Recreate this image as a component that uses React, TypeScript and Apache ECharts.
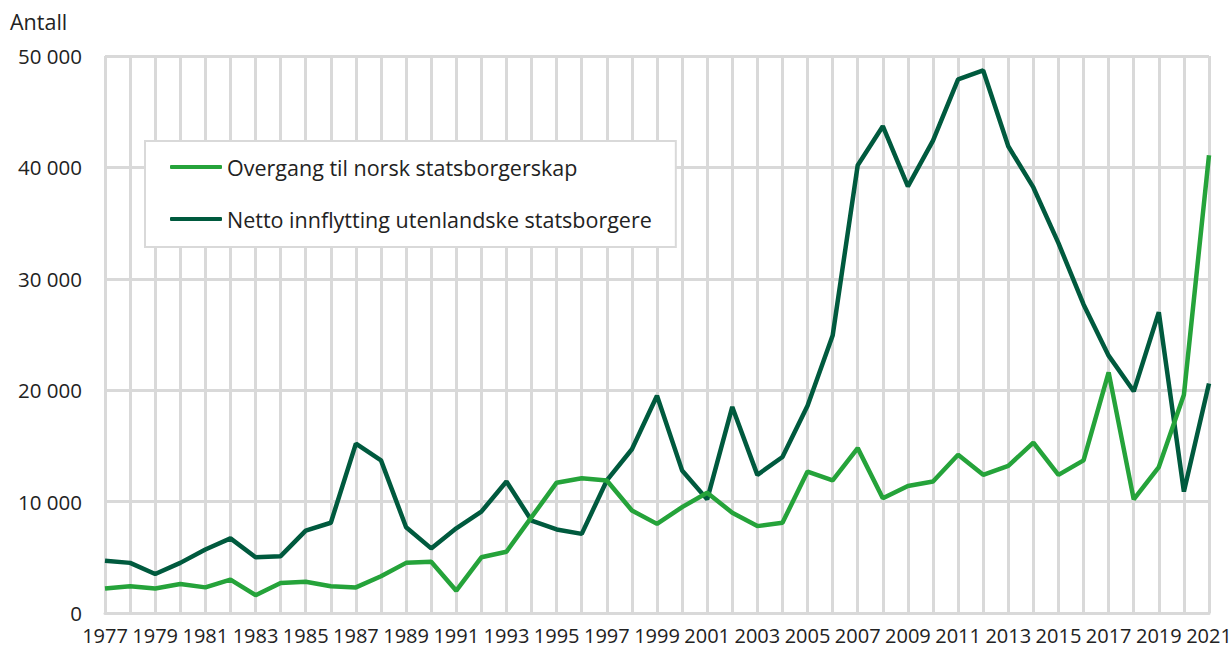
import React, { useEffect, useRef } from "react";
import * as echarts from "echarts";

const years = [
  "1977","1978","1979","1980","1981","1982","1983","1984","1985","1986",
  "1987","1988","1989","1990","1991","1992","1993","1994","1995","1996",
  "1997","1998","1999","2000","2001","2002","2003","2004","2005","2006",
  "2007","2008","2009","2010","2011","2012","2013","2014","2015","2016",
  "2017","2018","2019","2020","2021",
];

const overgang = [
  2200, 2400, 2200, 2600, 2300, 3000, 1600, 2700, 2800, 2400,
  2300, 3300, 4500, 4600, 2000, 5000, 5500, 8600, 11700, 12100,
  11900, 9200, 8000, 9500, 10800, 9000, 7800, 8100, 12700, 11900,
  14800, 10300, 11400, 11800, 14200, 12400, 13200, 15300, 12400, 13700,
  21600, 10200, 13100, 19600, 41100,
];

const netto = [
  4700, 4500, 3500, 4500, 5700, 6700, 5000, 5100, 7400, 8100,
  15200, 13700, 7700, 5800, 7600, 9100, 11800, 8300, 7500, 7100,
  11900, 14700, 19500, 12800, 10200, 18500, 12400, 14000, 18600, 24900,
  40200, 43700, 38300, 42400, 47900, 48700, 41900, 38200, 33200, 27700,
  23100, 19900, 27000, 10900, 20600,
];

const seriesNames = ["Overgang til norsk statsborgerskap", "Netto innflytting utenlandske statsborgere"];
const seriesColors = ["#25a33a", "#005a3e"];
const yAxisTitle = "Antall";

const FONT = "'Open Sans', 'Noto Sans', sans-serif";

export default function App() {
  const ref = useRef<HTMLDivElement>(null);
  useEffect(() => {
    if (!ref.current) return;
    const chart = echarts.init(ref.current, null, { renderer: "svg" });
    chart.setOption({
      animation: false,
      textStyle: { fontFamily: FONT, color: "#222" },
      grid: { left: 105, right: 22, top: 56, bottom: 36, containLabel: false, outerBoundsMode: "none" },
      graphic: [
        {
          type: "text",
          left: 10,
          top: 10,
          style: { text: yAxisTitle, fontSize: 21.5, fontFamily: FONT, fill: "#222" },
        },
      ],
      legend: {
        orient: "vertical",
        left: 145,
        top: 141,
        backgroundColor: "#fff",
        borderColor: "#d9d9d9",
        borderWidth: 2,
        padding: [13, 24, 15, 25],
        itemGap: 26,
        itemWidth: 52,
        itemHeight: 4,
        icon: "roundRect",
        textStyle: { fontSize: 21.5, lineHeight: 26, color: "#222", fontFamily: FONT },
        data: seriesNames,
      },
      xAxis: {
        type: "category",
        data: years,
        boundaryGap: false,
        axisLine: { show: true, lineStyle: { color: "#d9d9d9", width: 3 } },
        axisTick: { show: false },
        splitLine: { show: true, interval: 0, lineStyle: { color: "#d9d9d9", width: 3 } },
        axisLabel: { interval: 1, fontSize: 20, color: "#222", margin: 12, fontFamily: FONT },
      },
      yAxis: {
        type: "value",
        min: 0,
        max: 50000,
        interval: 10000,
        axisLine: { show: false },
        axisTick: { show: false },
        splitLine: { show: true, lineStyle: { color: "#d9d9d9", width: 3 } },
        axisLabel: {
          fontSize: 20.5,
          color: "#222",
          margin: 23,
          fontFamily: FONT,
          formatter: (v: number) => {
            const s = String(v);
            return s.length > 3 ? s.slice(0, s.length - 3) + " " + s.slice(-3) : s;
          },
        },
      },
      series: [
        {
          name: seriesNames[0],
          type: "line",
          data: overgang,
          symbol: "none",
          lineStyle: { color: seriesColors[0], width: 4.5 },
          itemStyle: { color: seriesColors[0] },
          z: 3,
        },
        {
          name: seriesNames[1],
          type: "line",
          data: netto,
          symbol: "none",
          lineStyle: { color: seriesColors[1], width: 4.5 },
          itemStyle: { color: seriesColors[1] },
          z: 2,
        },
      ],
    });
    return () => chart.dispose();
  }, []);
  return (
    <div
      ref={ref}
      style={{ position: "absolute", left: 0, top: 0, width: 1231, height: 649 }}
    />
  );
}
